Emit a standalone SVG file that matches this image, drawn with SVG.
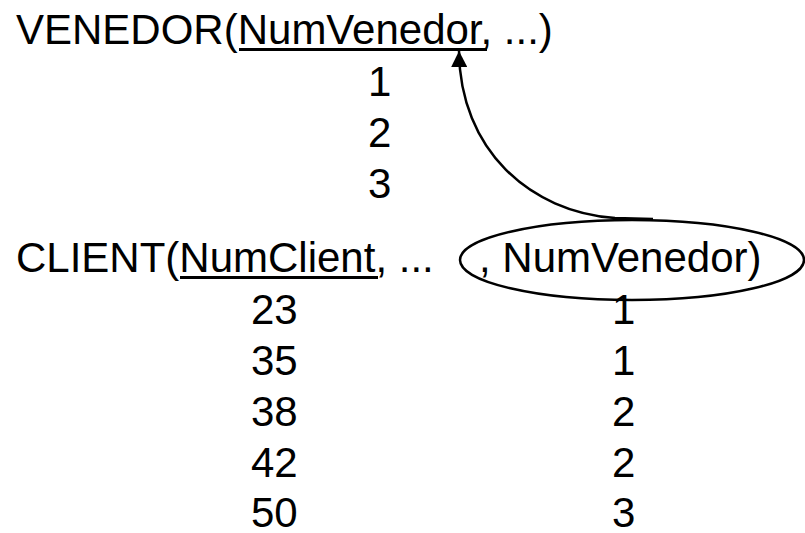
<svg xmlns="http://www.w3.org/2000/svg" width="805" height="533" viewBox="0 0 805 533">
<style>
text{font-family:"Liberation Sans",Arial,sans-serif;font-size:42px;fill:#000}
.ul{fill:#000}
.conn{fill:none;stroke:#000;stroke-width:2.5}
</style>
<defs>
<marker id="ah" viewBox="0 0 16 16" refX="16" refY="8" markerWidth="16" markerHeight="16" orient="auto" markerUnits="userSpaceOnUse">
<path d="M0,0 L16,8 L0,16 z" fill="#000"/>
</marker>
</defs>
<rect width="805" height="533" fill="#fff"/>
<g id="venedor">
<text x="16" y="44">VENEDOR(NumVenedor, ...)</text>
<rect class="ul" x="239" y="48" width="248" height="3"/>
<text x="368" y="96">1</text>
<text x="368" y="147">2</text>
<text x="368" y="198">3</text>
</g>
<g id="client">
<text x="16" y="272">CLIENT(NumClient, ...</text>
<rect class="ul" x="180" y="276" width="198" height="3"/>
<text x="479" y="272">, NumVenedor)</text>
<text x="251" y="324">23</text>
<text x="251" y="375">35</text>
<text x="251" y="426">38</text>
<text x="251" y="477">42</text>
<text x="251" y="527">50</text>
<text x="612" y="324">1</text>
<text x="612" y="375">1</text>
<text x="612" y="426">2</text>
<text x="612" y="477">2</text>
<text x="612" y="527">3</text>
</g>
<g id="fk-ellipse">
<ellipse cx="632" cy="260" rx="172" ry="40" fill="none" stroke="#000" stroke-width="2.5"/>
</g>
<g id="connectors">
<path class="conn" d="M653,219 L615,218 C530,212 460,150 459,51" marker-end="url(#ah)"/>
</g>
</svg>
